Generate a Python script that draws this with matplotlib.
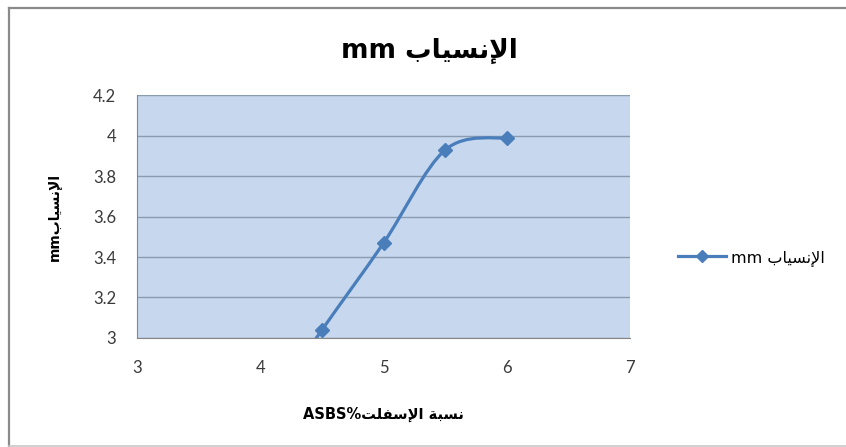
import matplotlib
matplotlib.use("Agg")
import matplotlib.pyplot as plt
from matplotlib.path import Path
from matplotlib.patches import PathPatch
from matplotlib.lines import Line2D


# Asphalt content (%) against flow (mm)
asphalt = [4.0, 4.5, 5.0, 5.5, 6.0]
flow = [2.6, 3.04, 3.47, 3.93, 3.99]

x_ticks = [3, 4, 5, 6, 7]
y_ticks = [3, 3.2, 3.4, 3.6, 3.8, 4, 4.2]
y_tick_labels = ["3", "3.2", "3.4", "3.6", "3.8", "4", "4.2"]

title_ar = "الإنسياب"
xlabel_ar = "نسبة الإسفلت"


# matplotlib does no Arabic shaping, so pick the presentation forms by hand
# (isolated, final, initial, medial)
FORMS = {
    "ا": ("\ufe8d", "\ufe8e", None, None),
    "إ": ("\ufe87", "\ufe88", None, None),
    "ب": ("\ufe8f", "\ufe90", "\ufe91", "\ufe92"),
    "ة": ("\ufe93", "\ufe94", None, None),
    "ت": ("\ufe95", "\ufe96", "\ufe97", "\ufe98"),
    "س": ("\ufeb1", "\ufeb2", "\ufeb3", "\ufeb4"),
    "ف": ("\ufed1", "\ufed2", "\ufed3", "\ufed4"),
    "ل": ("\ufedd", "\ufede", "\ufedf", "\ufee0"),
    "ن": ("\ufee5", "\ufee6", "\ufee7", "\ufee8"),
    "ي": ("\ufef1", "\ufef2", "\ufef3", "\ufef4"),
}
LAM_ALEF = {"ا": ("\ufefb", "\ufefc"), "إ": ("\ufef9", "\ufefa")}


def shape_word(word):
    out = []
    prev_joins = False
    i = 0
    while i < len(word):
        ch = word[i]
        if ch == "ل" and i + 1 < len(word) and word[i + 1] in LAM_ALEF:
            iso, fin = LAM_ALEF[word[i + 1]]
            out.append(fin if prev_joins else iso)
            prev_joins = False
            i += 2
            continue
        iso, fin, ini, med = FORMS[ch]
        nxt = i + 1 < len(word) and word[i + 1] in FORMS
        if ini and nxt:
            out.append(med if prev_joins else ini)
            prev_joins = True
        else:
            out.append(fin if prev_joins else iso)
            prev_joins = False
        i += 1
    return "".join(out)


def rtl(text):
    words = [shape_word(w) for w in text.split(" ")]
    return " ".join(w[::-1] for w in reversed(words))


def smooth_path(xs, ys):
    """Cubic bezier through the points, like Excel's smoothed line."""
    pts = list(zip(xs, ys))
    verts = [pts[0]]
    codes = [Path.MOVETO]
    n = len(pts)
    for i in range(n - 1):
        p0 = pts[max(i - 1, 0)]
        p1 = pts[i]
        p2 = pts[i + 1]
        p3 = pts[min(i + 2, n - 1)]
        c1 = (p1[0] + (p2[0] - p0[0]) / 6, p1[1] + (p2[1] - p0[1]) / 6)
        c2 = (p2[0] - (p3[0] - p1[0]) / 6, p2[1] - (p3[1] - p1[1]) / 6)
        verts += [c1, c2, p2]
        codes += [Path.CURVE4] * 3
    return Path(verts, codes)


blue = "#4a7ebb"
arabic_font = ["DejaVu Sans"]
num_font = ["Lato", "DejaVu Sans"]

fig = plt.figure(figsize=(8.46, 4.47), dpi=100)
ax = fig.add_axes([0.162, 0.244, 0.583, 0.543])
ax.set_facecolor("#c6d7ee")

ax.add_patch(PathPatch(smooth_path(asphalt, flow), facecolor="none",
                       edgecolor=blue, lw=2.3, zorder=3))
ax.plot(asphalt, flow, linestyle="none", marker="D", ms=7.5,
        color=blue, zorder=4)

ax.set_xlim(3, 7)
ax.set_ylim(3, 4.2)
ax.set_xticks(x_ticks)
ax.set_yticks(y_ticks)
ax.set_yticklabels(y_tick_labels)
ax.tick_params(length=0, labelsize=12, labelcolor="#3a3a3a")
ax.tick_params(axis="y", pad=15)
ax.tick_params(axis="x", pad=16)
for lab in ax.get_xticklabels() + ax.get_yticklabels():
    lab.set_family(num_font)

ax.grid(True, axis="y", color="#8c9cb0", lw=1)
ax.set_axisbelow(True)
for side in ("top", "right"):
    ax.spines[side].set_visible(False)
for side in ("left", "bottom"):
    ax.spines[side].set_color("#868686")

ax.set_ylabel("mm" + rtl(title_ar), family=arabic_font, fontsize=10,
              weight="bold")
ax.yaxis.set_label_coords(-0.152, 0.5)
ax.set_xlabel("ASBS%" + rtl(xlabel_ar), family=arabic_font, fontsize=10.5,
              weight="bold")
ax.xaxis.set_label_coords(0.5, -0.285)

fig.text(0.508, 0.886, "mm " + rtl(title_ar), ha="center", va="center",
         family=arabic_font, fontsize=19, weight="bold")

handle = Line2D([], [], color=blue, lw=2.3, marker="D", ms=6)
ax.legend([handle], ["mm " + rtl(title_ar)], loc="center left",
          bbox_to_anchor=(0.785, 0.423), bbox_transform=fig.transFigure,
          frameon=False, prop={"family": arabic_font, "size": 11.5},
          handlelength=3.0, handletextpad=0.3)

# outer chart border
border = dict(color="#8a8a8a", lw=1.6, transform=fig.transFigure)
fig.add_artist(Line2D([0.011, 0.011], [0.002, 0.983], **border))
fig.add_artist(Line2D([0.011, 1.0], [0.983, 0.983], **border))
fig.add_artist(Line2D([0.011, 1.0], [0.002, 0.002], color="#c8c8c8", lw=1.2,
                      transform=fig.transFigure))

fig.savefig("out.png", dpi=100)
